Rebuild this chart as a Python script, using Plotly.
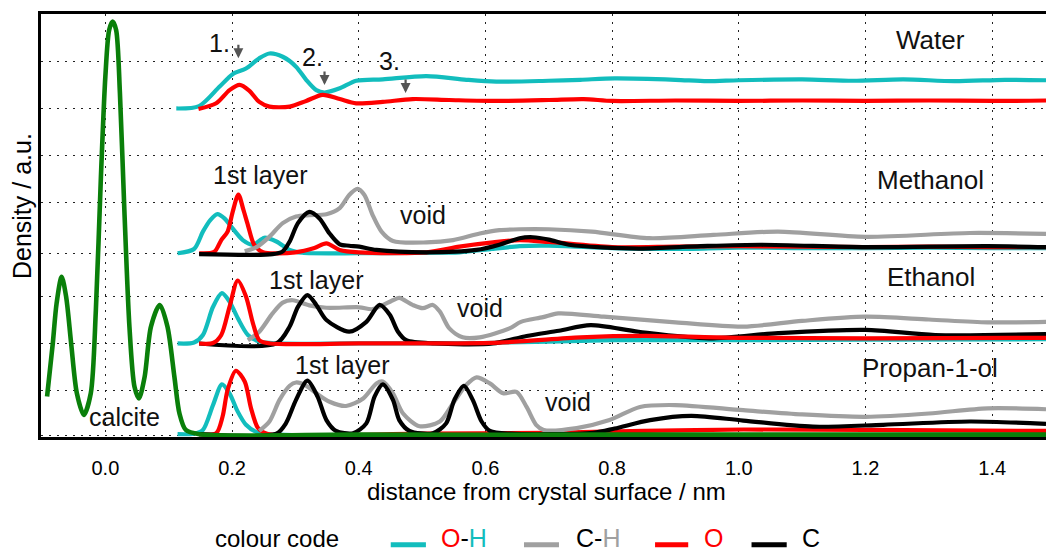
import plotly.graph_objects as go

# ---- distance axis ticks (nm) ----
x_ticks = [0.0, 0.2, 0.4, 0.6, 0.8, 1.0, 1.2, 1.4]
x_tick_labels = ["0.0", "0.2", "0.4", "0.6", "0.8", "1.0", "1.2", "1.4"]
y_grid = [0.03, 1, 2, 3, 3.9, 5, 6, 7, 8]

# ---- Water ----
water_oh_x = [0.112, 0.148, 0.180, 0.201, 0.222, 0.243, 0.259, 0.280, 0.301, 0.317, 0.333, 0.346,
              0.370, 0.396, 0.438, 0.507, 0.570, 0.617, 0.700, 0.750, 0.804, 0.900, 0.950, 1.000,
              1.100, 1.180, 1.260, 1.340, 1.420, 1.485]
water_oh_y = [6.99, 7.04, 7.45, 7.72, 7.84, 8.06, 8.16, 8.09, 7.88, 7.60, 7.38, 7.33,
              7.42, 7.58, 7.61, 7.68, 7.60, 7.56, 7.58, 7.60, 7.63, 7.60, 7.57, 7.59,
              7.61, 7.58, 7.61, 7.57, 7.60, 7.59]
water_o_x = [0.147, 0.175, 0.196, 0.212, 0.227, 0.243, 0.259, 0.291, 0.317, 0.343, 0.370, 0.396,
             0.438, 0.485, 0.543, 0.617, 0.700, 0.755, 0.801, 0.900, 1.000, 1.100, 1.200, 1.300,
             1.400, 1.485]
water_o_y = [6.98, 7.10, 7.38, 7.49, 7.37, 7.13, 7.03, 7.03, 7.15, 7.28, 7.19, 7.10,
             7.13, 7.19, 7.17, 7.15, 7.17, 7.19, 7.15, 7.16, 7.15, 7.16, 7.15, 7.16,
             7.15, 7.16]

# ---- Methanol ----
meth_oh_x = [0.114, 0.140, 0.154, 0.166, 0.177, 0.188, 0.199, 0.217, 0.233, 0.251, 0.270, 0.291,
             0.311, 0.400, 0.500, 0.559, 0.610, 0.654, 0.700, 0.800, 0.900, 1.000, 1.100, 1.200,
             1.300, 1.400, 1.485]
meth_oh_y = [3.91, 4.00, 4.37, 4.62, 4.74, 4.65, 4.47, 4.19, 4.09, 4.24, 4.16, 3.98,
             3.92, 3.91, 3.92, 3.93, 4.00, 4.06, 4.07, 4.02, 4.00, 4.03, 4.02, 4.02,
             4.03, 4.02, 4.02]
meth_o_x = [0.148, 0.172, 0.183, 0.193, 0.201, 0.210, 0.218, 0.225, 0.235, 0.249, 0.300, 0.330,
            0.349, 0.370, 0.400, 0.507, 0.559, 0.612, 0.654, 0.700, 0.800, 0.900, 1.000, 1.100,
            1.200, 1.300, 1.400, 1.485]
meth_o_y = [3.91, 3.94, 4.19, 4.37, 4.79, 5.16, 4.83, 4.51, 4.09, 3.93, 3.93, 4.02,
            4.12, 3.98, 3.93, 3.93, 4.05, 4.14, 4.19, 4.15, 4.04, 4.05, 4.06, 4.05,
            4.04, 4.05, 4.04, 4.04]
meth_ch_x = [0.220, 0.240, 0.259, 0.280, 0.301, 0.322, 0.349, 0.370, 0.385, 0.398, 0.409, 0.422,
             0.436, 0.454, 0.507, 0.549, 0.591, 0.622, 0.654, 0.700, 0.768, 0.859, 0.960, 1.062,
             1.200, 1.365, 1.485]
meth_ch_y = [3.95, 4.05, 4.26, 4.55, 4.69, 4.72, 4.74, 4.87, 5.15, 5.28, 5.15, 4.72,
             4.37, 4.17, 4.14, 4.19, 4.33, 4.40, 4.42, 4.42, 4.37, 4.23, 4.30, 4.37,
             4.26, 4.34, 4.32]
meth_c_x = [0.148, 0.264, 0.280, 0.291, 0.304, 0.322, 0.338, 0.354, 0.370, 0.385, 0.401, 0.428,
            0.507, 0.586, 0.622, 0.654, 0.675, 0.700, 0.732, 0.842, 0.940, 1.035, 1.200, 1.392,
            1.485]
meth_c_y = [3.89, 3.89, 3.95, 4.16, 4.55, 4.79, 4.65, 4.33, 4.10, 4.07, 4.05, 3.98,
            3.93, 3.98, 4.09, 4.23, 4.25, 4.20, 4.09, 4.01, 4.06, 4.09, 4.04, 4.06,
            4.04]

# ---- Ethanol ----
eth_oh_x = [0.114, 0.140, 0.154, 0.170, 0.184, 0.196, 0.209, 0.225, 0.243, 0.270, 0.400, 0.600,
            0.800, 1.000, 1.200, 1.485]
eth_oh_y = [1.99, 2.01, 2.17, 2.77, 3.06, 2.88, 2.53, 2.17, 2.03, 1.99, 1.99, 2.00,
            2.06, 2.06, 2.07, 2.08]
eth_o_x = [0.148, 0.170, 0.183, 0.196, 0.209, 0.222, 0.233, 0.243, 0.260, 0.400, 0.622, 0.750,
           0.853, 1.000, 1.200, 1.485]
eth_o_y = [1.99, 2.00, 2.17, 2.77, 3.33, 2.99, 2.42, 2.06, 1.99, 1.99, 2.01, 2.12,
           2.15, 2.11, 2.10, 2.11]
eth_ch_x = [0.225, 0.243, 0.264, 0.280, 0.296, 0.322, 0.349, 0.401, 0.422, 0.454, 0.464, 0.485,
            0.501, 0.517, 0.528, 0.543, 0.564, 0.591, 0.638, 0.656, 0.691, 0.715, 0.787, 0.900,
            1.007, 1.100, 1.200, 1.300, 1.393, 1.485]
eth_ch_y = [2.06, 2.24, 2.63, 2.86, 2.91, 2.80, 2.75, 2.76, 2.72, 2.91, 2.96, 2.81,
            2.74, 2.81, 2.67, 2.31, 2.12, 2.12, 2.31, 2.45, 2.55, 2.63, 2.56, 2.44,
            2.35, 2.47, 2.56, 2.50, 2.44, 2.45]
eth_c_x = [0.148, 0.270, 0.291, 0.304, 0.319, 0.333, 0.349, 0.385, 0.412, 0.433, 0.449, 0.462,
           0.475, 0.520, 0.612, 0.665, 0.716, 0.766, 0.842, 0.953, 1.062, 1.200, 1.310, 1.485]
eth_c_y = [1.99, 1.99, 2.35, 2.77, 3.02, 2.81, 2.49, 2.24, 2.45, 2.81, 2.60, 2.24,
           2.06, 1.99, 1.99, 2.15, 2.26, 2.38, 2.24, 2.10, 2.21, 2.28, 2.17, 2.19]

# ---- Propan-1-ol ----
prop_oh_x = [0.114, 0.140, 0.154, 0.170, 0.184, 0.196, 0.209, 0.222, 0.238, 0.260, 1.485]
prop_oh_y = [0.06, 0.07, 0.15, 0.68, 1.12, 0.93, 0.54, 0.26, 0.11, 0.06, 0.06]
prop_o_x = [0.148, 0.175, 0.185, 0.193, 0.206, 0.220, 0.230, 0.241, 0.255, 0.500, 0.700, 0.850,
            1.008, 1.200, 1.485]
prop_o_y = [0.06, 0.08, 0.43, 1.00, 1.41, 1.18, 0.61, 0.19, 0.07, 0.07, 0.09, 0.13,
            0.16, 0.15, 0.13]
prop_ch_x = [0.243, 0.259, 0.275, 0.291, 0.301, 0.316, 0.333, 0.354, 0.380, 0.407, 0.428, 0.438,
             0.454, 0.470, 0.496, 0.528, 0.549, 0.570, 0.586, 0.607, 0.628, 0.649, 0.665, 0.680,
             0.692, 0.744, 0.796, 0.844, 0.900, 1.007, 1.100, 1.200, 1.300, 1.393, 1.485]
prop_ch_y = [0.13, 0.33, 0.79, 1.09, 1.16, 1.10, 0.93, 0.75, 0.66, 0.82, 1.14, 1.18,
             0.93, 0.50, 0.23, 0.33, 0.72, 1.11, 1.27, 1.14, 0.93, 0.96, 0.64, 0.26,
             0.15, 0.19, 0.36, 0.64, 0.68, 0.57, 0.48, 0.43, 0.50, 0.61, 0.59]
prop_c_x = [0.148, 0.270, 0.285, 0.301, 0.319, 0.335, 0.349, 0.364, 0.391, 0.412, 0.425, 0.438,
            0.454, 0.464, 0.480, 0.517, 0.538, 0.551, 0.566, 0.580, 0.594, 0.607, 0.640, 0.770,
            0.804, 0.860, 0.925, 1.007, 1.117, 1.228, 1.365, 1.485]
prop_c_y = [0.06, 0.07, 0.29, 0.79, 1.20, 0.86, 0.36, 0.13, 0.08, 0.29, 0.86, 1.12,
            0.79, 0.36, 0.13, 0.08, 0.29, 0.79, 1.09, 0.79, 0.33, 0.13, 0.07, 0.09,
            0.18, 0.36, 0.45, 0.35, 0.22, 0.26, 0.33, 0.28]

# ---- Calcite ----
calcite_x = [-0.092, -0.083, -0.077, -0.069, -0.062, -0.054, -0.045, -0.034, -0.023, -0.015,
             -0.007, 0.000, 0.006, 0.0115, 0.017, 0.023, 0.030, 0.038, 0.046, 0.053, 0.062,
             0.072, 0.086, 0.098, 0.109, 0.117, 0.127, 0.148, 0.400, 0.800, 1.200, 1.485]
calcite_y = [0.86, 1.99, 2.84, 3.41, 2.99, 1.99, 0.93, 0.47, 0.93, 2.70,
             5.54, 7.67, 8.66, 8.84, 8.66, 7.31, 4.83, 2.35, 1.07, 0.82, 1.28,
             2.35, 2.81, 2.35, 1.28, 0.50, 0.15, 0.06, 0.05, 0.05, 0.05, 0.05]

CYAN = "#12BDBD"
GREY = "#A0A0A0"
RED = "#FF0000"
BLACK = "#000000"
GREEN = "#0A7F0A"
FONT = "Liberation Sans, Arial, sans-serif"

fig = go.Figure()


def add_curve(xs, ys, color, width=4.2):
    fig.add_trace(go.Scatter(
        x=xs, y=ys, mode="lines",
        line=dict(color=color, width=width, shape="spline", smoothing=0.8),
        hoverinfo="skip", showlegend=False,
    ))


# stacking order inside each block follows which line sits on top
add_curve(water_oh_x, water_oh_y, CYAN)
add_curve(water_o_x, water_o_y, RED)

add_curve(meth_oh_x, meth_oh_y, CYAN)
add_curve(meth_o_x, meth_o_y, RED)
add_curve(meth_ch_x, meth_ch_y, GREY)
add_curve(meth_c_x, meth_c_y, BLACK)

add_curve(eth_oh_x, eth_oh_y, CYAN)
add_curve(eth_ch_x, eth_ch_y, GREY)
add_curve(eth_c_x, eth_c_y, BLACK)
add_curve(eth_o_x, eth_o_y, RED)

add_curve(prop_oh_x, prop_oh_y, CYAN)
add_curve(prop_o_x, prop_o_y, RED)
add_curve(prop_ch_x, prop_ch_y, GREY)
add_curve(prop_c_x, prop_c_y, BLACK)

add_curve(calcite_x, calcite_y, GREEN, width=4.6)

grid_style = dict(showgrid=True, gridcolor="#222222", gridwidth=1.4, griddash="2px,6px")

fig.update_layout(
    width=1046, height=555,
    margin=dict(l=41, r=0, t=14, b=118),
    plot_bgcolor="white", paper_bgcolor="white",
    font=dict(family=FONT, color="black"),
    showlegend=False,
    xaxis=dict(
        range=[-0.1016, 1.485], tickvals=x_ticks, ticktext=x_tick_labels,
        ticks="", ticklabelstandoff=11, tickfont=dict(size=20),
        showline=True, linecolor="black", linewidth=3, mirror=True, zeroline=False,
        automargin=False, **grid_style,
    ),
    yaxis=dict(
        range=[0, 9], tickvals=y_grid, showticklabels=False, ticks="",
        showline=True, linecolor="black", linewidth=3, zeroline=False,
        automargin=False, **grid_style,
    ),
)

# axis titles
fig.add_annotation(
    text="distance from crystal surface / nm", xref="paper", yref="paper",
    x=0.5025, y=-0.1277, xanchor="center", yanchor="middle",
    showarrow=False, font=dict(size=24),
)
fig.add_annotation(
    text="Density / a.u.", textangle=-90, xref="paper", yref="paper",
    x=-0.0189, y=0.546, xanchor="center", yanchor="middle",
    showarrow=False, font=dict(size=25),
)

# block names and region labels
labels = [
    ("Water", 1.303, 8.45, 26),
    ("Methanol", 1.302, 5.47, 26),
    ("Ethanol", 1.303, 3.41, 26),
    ("Propan-1-ol", 1.302, 1.47, 26),
    ("1st layer", 0.244, 5.57, 25),
    ("void", 0.502, 4.72, 25),
    ("1st layer", 0.332, 3.34, 25),
    ("void", 0.592, 2.74, 25),
    ("1st layer", 0.374, 1.53, 25),
    ("void", 0.731, 0.75, 25),
    ("calcite", 0.031, 0.43, 25),
    ("1.", 0.180, 8.38, 25),
    ("2.", 0.327, 8.09, 25),
    ("3.", 0.449, 8.00, 25),
]
for text, lx, ly, size in labels:
    fig.add_annotation(text=text, x=lx, y=ly, xref="x", yref="y", showarrow=False,
                       xanchor="center", yanchor="middle",
                       font=dict(size=size, color="#111111"))

# hydration layer markers in the water block
markers = [(0.210, 8.06), (0.346, 7.49), (0.474, 7.32)]
for mx, my in markers:
    fig.add_annotation(x=mx, y=my, xref="x", yref="y", text="", showarrow=True,
                       ax=0, ay=-15, arrowhead=2, arrowsize=0.9, arrowwidth=2.2,
                       arrowcolor="#555555")

# colour code row under the axis
fig.add_annotation(text="colour code", xref="paper", yref="paper", x=0.2348, y=-0.2388,
                   xanchor="center", yanchor="middle", showarrow=False, font=dict(size=24))
key_items = [
    (CYAN, 0.348, 0.383, 0.396,
     f'<span style="color:{RED}">O</span>-<span style="color:{CYAN}">H</span>'),
    (GREY, 0.4806, 0.5154, 0.530, f'C-<span style="color:{GREY}">H</span>'),
    (RED, 0.611, 0.644, 0.658, f'<span style="color:{RED}">O</span>'),
    (BLACK, 0.707, 0.742, 0.755, 'C'),
]
for color, x0, x1, tx, text in key_items:
    fig.add_shape(type="line", xref="paper", yref="paper", x0=x0, x1=x1, y0=-0.255, y1=-0.255,
                  line=dict(color=color, width=5))
    fig.add_annotation(text=text, xref="paper", yref="paper", x=tx, y=-0.2388, xanchor="left",
                       yanchor="middle", showarrow=False, font=dict(size=25))

fig.write_html("out.html")
